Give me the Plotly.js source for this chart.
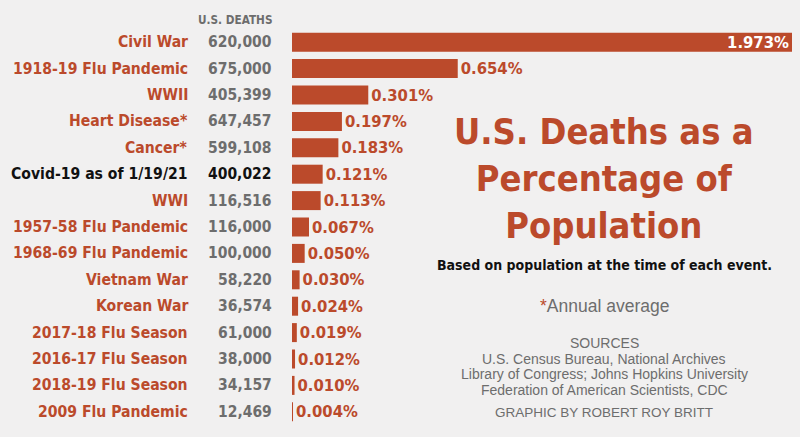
<!DOCTYPE html>
<html><head><meta charset="utf-8">
<script src="https://cdn.plot.ly/plotly-3.0.1.min.js"></script>
<style>body{margin:0;background:#f1f0f0}</style>
</head><body><div id="chart" style="width:800px;height:437px"></div>
<script>
const categories = ["Civil War","1918-19 Flu Pandemic","WWII","Heart Disease*","Cancer*","Covid-19 as of 1/19/21","WWI","1957-58 Flu Pandemic","1968-69 Flu Pandemic","Vietnam War","Korean War","2017-18 Flu Season","2016-17 Flu Season","2018-19 Flu Season","2009 Flu Pandemic"];
const deaths = ["620,000","675,000","405,399","647,457","599,108","400,022","116,516","116,000","100,000","58,220","36,574","61,000","38,000","34,157","12,469"];
const percents = [1.973,0.654,0.301,0.197,0.183,0.121,0.113,0.067,0.050,0.030,0.024,0.019,0.012,0.010,0.004];
const valueLabels = ["1.973%","0.654%","0.301%","0.197%","0.183%","0.121%","0.113%","0.067%","0.050%","0.030%","0.024%","0.019%","0.012%","0.010%","0.004%"];
const highlight = "Covid-19 as of 1/19/21";
const sourceLines = ["SOURCES","U.S. Census Bureau, National Archives","Library of Congress; Johns Hopkins University","Federation of American Scientists, CDC"];

const RED = "#bb4a2b";
const NARROW = "DejaVu Sans Condensed, Liberation Sans Narrow, Arial Narrow, sans-serif";
const SANS = "Liberation Sans, Arial, sans-serif";

const trace = {
  type: "bar", orientation: "h",
  x: percents, y: categories,
  width: 0.72,
  marker: {color: RED},
  text: valueLabels,
  textposition: percents.map((v,i)=> i===0 ? "inside" : "outside"),
  insidetextanchor: "end",
  constraintext: "none",
  cliponaxis: false,
  textfont: {family: NARROW, size: 16.5, color: percents.map((v,i)=> i===0 ? "#ffffff" : RED), weight: 700},
  hoverinfo: "none"
};

const annotations = [];
categories.forEach((c,i)=>{
  const hl = c===highlight;
  annotations.push({xref:"paper", yref:"y", x:-0.204, y:c, xanchor:"right", yanchor:"middle", showarrow:false,
    text:c, font:{family:NARROW, size:15.6, color: hl?"#111111":RED, weight:700}});
  annotations.push({xref:"paper", yref:"y", x:-0.036, y:c, xanchor:"right", yanchor:"middle", showarrow:false,
    text:deaths[i], font:{family:NARROW, size:15.5, color: hl?"#111111":"#6d6d6d", weight:700}});
});
annotations.push({xref:"paper", yref:"paper", x:-0.036, y:1.0, xanchor:"right", yanchor:"bottom", showarrow:false,
  text:"U.S. DEATHS", font:{family:NARROW, size:11.7, color:"#6d6d6d", weight:700}});

const cx = (604-292)/500;
function py(ypx){ return (425 - ypx)/396; }
annotations.push({xref:"paper", yref:"paper", x:cx, y:py(178), xanchor:"center", yanchor:"middle", showarrow:false,
  text:"U.S. Deaths as a<br>Percentage of<br>Population", font:{family:NARROW, size:36, color:RED, weight:700}});
annotations.push({xref:"paper", yref:"paper", x:cx, y:py(265), xanchor:"center", yanchor:"middle", showarrow:false,
  text:"Based on population at the time of each event.", font:{family:NARROW, size:14, color:"#111111", weight:700}});
annotations.push({xref:"paper", yref:"paper", x:cx, y:py(306), xanchor:"center", yanchor:"middle", showarrow:false,
  text:"<span style='color:"+RED+"'>*</span>Annual average", font:{family:SANS, size:17.5, color:"#6d6d6d"}});
const srcY = [343, 358.5, 374, 390];
sourceLines.forEach((s,i)=>{
  annotations.push({xref:"paper", yref:"paper", x:cx, y:py(srcY[i]), xanchor:"center", yanchor:"middle", showarrow:false,
    text:s, font:{family:SANS, size:14, color:"#6d6d6d"}});
});
annotations.push({xref:"paper", yref:"paper", x:cx, y:py(412), xanchor:"center", yanchor:"middle", showarrow:false,
  text:"GRAPHIC BY ROBERT ROY BRITT", font:{family:SANS, size:13.5, color:"#6d6d6d"}});

const layout = {
  width: 800, height: 437,
  margin: {l:292, r:8, t:29, b:12},
  paper_bgcolor: "#f1f0f0", plot_bgcolor: "#f1f0f0",
  showlegend: false,
  xaxis: {range:[0,1.973], visible:false, fixedrange:true},
  yaxis: {type:"category", autorange:"reversed", showticklabels:false, showgrid:false, zeroline:false, showline:false, ticks:""},
  annotations: annotations,
  bargap: 0.28
};
Plotly.newPlot("chart", [trace], layout, {displayModeBar:false, staticPlot:true});
</script></body></html>
